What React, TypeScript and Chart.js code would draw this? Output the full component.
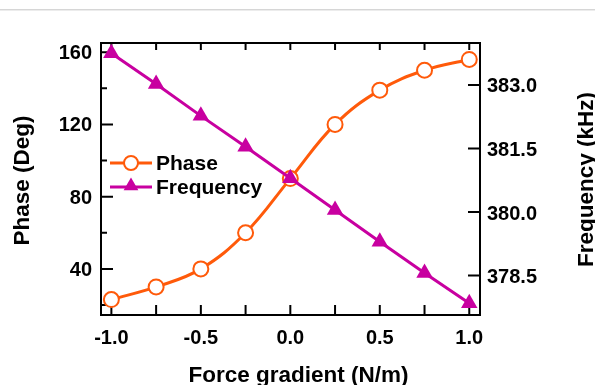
import React, { useEffect, useRef } from 'react';
import { Chart, registerables } from 'chart.js';

Chart.register(...registerables);

// ---- data ----
const forceGradient = [-1, -0.75, -0.5, -0.25, 0, 0.25, 0.5, 0.75, 1];
const phaseDeg = [23, 30, 40, 60, 90, 120, 139, 150, 156];
const frequencyKHz = [383.75, 383.02, 382.27, 381.54, 380.8, 380.05, 379.3, 378.56, 377.85];

const xTickLabels = [-1, -0.5, 0, 0.5, 1];
const xTickMarks = [-1, -0.75, -0.5, -0.25, 0, 0.25, 0.5, 0.75, 1];
const phaseTicks = [40, 80, 120, 160];
const phaseMinorTicks = [20, 60, 100, 140];
const freqTicks = [378.5, 380, 381.5, 383];

const seriesNames = ['Phase', 'Frequency'];
const xTitle = 'Force gradient (N/m)';
const leftTitle = 'Phase (Deg)';
const rightTitle = 'Frequency (kHz)';

const ORANGE = '#ff5a0a';
const MAGENTA = '#c800a0';
const FONT_FAMILY = "'Liberation Sans', Arial, Helvetica, sans-serif";

const tickFont = { family: FONT_FAMILY, size: 20, weight: 'bold' as const };

const decorPlugin = {
  id: 'decor',
  beforeDraw(chart: any) {
    const ctx = chart.ctx;
    ctx.save();
    ctx.fillStyle = '#ffffff';
    ctx.fillRect(0, 0, chart.width, chart.height);
    ctx.fillStyle = '#d6d6d6';
    ctx.fillRect(0, 9, chart.width, 1);
    ctx.fillStyle = '#ececec';
    ctx.fillRect(0, 10, chart.width, 1);
    ctx.restore();
  },
  beforeDatasetsDraw(chart: any) {
    const ctx = chart.ctx;
    const { left, right, top, bottom } = chart.chartArea;
    const sx = chart.scales.x;
    const sy = chart.scales.y;
    const sy1 = chart.scales.y1;
    ctx.save();
    ctx.strokeStyle = '#000';
    ctx.lineWidth = 2;
    ctx.beginPath();
    xTickMarks.forEach((v) => {
      const px = sx.getPixelForValue(v);
      ctx.moveTo(px, bottom);
      ctx.lineTo(px, bottom - 10);
      ctx.moveTo(px, top);
      ctx.lineTo(px, top + 7);
    });
    phaseTicks.forEach((v) => {
      const py = sy.getPixelForValue(v);
      ctx.moveTo(left, py);
      ctx.lineTo(left + 12, py);
    });
    phaseMinorTicks.forEach((v) => {
      const py = sy.getPixelForValue(v);
      ctx.moveTo(left, py);
      ctx.lineTo(left + 6, py);
    });
    freqTicks.forEach((v) => {
      const py = sy1.getPixelForValue(v);
      ctx.moveTo(right, py);
      ctx.lineTo(right - 12, py);
    });
    ctx.stroke();
    ctx.strokeRect(left, top, right - left, bottom - top);
    ctx.restore();
  },
  afterDraw(chart: any) {
    const ctx = chart.ctx;
    ctx.save();
    ctx.fillStyle = '#000';
    ctx.font = `bold 22.5px ${FONT_FAMILY}`;
    // x title
    ctx.textAlign = 'center';
    ctx.textBaseline = 'alphabetic';
    ctx.fillText(xTitle, 298.5, 381.5);
    // left title
    ctx.save();
    ctx.translate(28.5, 180.5);
    ctx.rotate(-Math.PI / 2);
    ctx.fillText(leftTitle, 0, 0);
    ctx.restore();
    // right title
    ctx.save();
    ctx.translate(593, 179.5);
    ctx.rotate(-Math.PI / 2);
    ctx.fillText(rightTitle, 0, 0);
    ctx.restore();

    // legend
    ctx.font = `bold 21px ${FONT_FAMILY}`;
    const lx0 = 110;
    const lx1 = 152;
    const mx = 131;
    const rows = [163, 187];
    ctx.lineWidth = 3;
    // Phase
    ctx.strokeStyle = ORANGE;
    ctx.beginPath();
    ctx.moveTo(lx0, rows[0]);
    ctx.lineTo(lx1, rows[0]);
    ctx.stroke();
    ctx.lineWidth = 2;
    ctx.fillStyle = '#fff';
    ctx.beginPath();
    ctx.arc(mx, rows[0], 7, 0, Math.PI * 2);
    ctx.fill();
    ctx.stroke();
    // Frequency
    ctx.lineWidth = 3;
    ctx.strokeStyle = MAGENTA;
    ctx.beginPath();
    ctx.moveTo(lx0, rows[1]);
    ctx.lineTo(lx1, rows[1]);
    ctx.stroke();
    ctx.fillStyle = MAGENTA;
    const r = 8.5;
    const cy = rows[1] - 1;
    ctx.beginPath();
    ctx.moveTo(mx, cy - r);
    ctx.lineTo(mx + r * Math.sin((2 * Math.PI) / 3), cy + r * 0.5);
    ctx.lineTo(mx - r * Math.sin((2 * Math.PI) / 3), cy + r * 0.5);
    ctx.closePath();
    ctx.fill();

    ctx.fillStyle = '#000';
    ctx.textAlign = 'left';
    ctx.textBaseline = 'alphabetic';
    ctx.fillText(seriesNames[0], 156, 170);
    ctx.fillText(seriesNames[1], 156, 193.5);
    ctx.restore();
  },
};

export default function App() {
  const canvasRef = useRef<HTMLCanvasElement | null>(null);

  useEffect(() => {
    if (!canvasRef.current) return;
    const chart = new Chart(canvasRef.current, {
      type: 'line',
      data: {
        datasets: [
          {
            label: seriesNames[0],
            data: forceGradient.map((x, i) => ({ x, y: phaseDeg[i] })),
            yAxisID: 'y',
            borderColor: ORANGE,
            backgroundColor: '#ffffff',
            borderWidth: 3,
            pointStyle: 'circle',
            pointRadius: 7.5,
            pointBorderWidth: 2,
            pointBorderColor: ORANGE,
            pointBackgroundColor: '#ffffff',
            tension: 0.4,
            clip: false as any,
            order: 1,
          },
          {
            label: seriesNames[1],
            data: forceGradient.map((x, i) => ({ x, y: frequencyKHz[i] })),
            yAxisID: 'y1',
            borderColor: MAGENTA,
            backgroundColor: MAGENTA,
            borderWidth: 3,
            pointStyle: 'triangle',
            pointRadius: 9.5,
            pointBorderWidth: 0,
            pointBackgroundColor: MAGENTA,
            tension: 0,
            clip: false as any,
            order: 0,
          },
        ],
      },
      options: {
        responsive: false,
        animation: false,
        devicePixelRatio: 1,
        layout: { padding: { top: 43, left: 0, right: 0, bottom: 0 } },
        plugins: {
          legend: { display: false },
          tooltip: { enabled: false },
          title: { display: false },
        },
        scales: {
          x: {
            type: 'linear',
            position: 'bottom',
            min: -1.058,
            max: 1.06,
            grid: { display: false, drawTicks: false },
            border: { display: false },
            ticks: {
              font: tickFont,
              color: '#000',
              padding: 11,
              autoSkip: false,
              maxRotation: 0,
              callback: (v: any) => Number(v).toFixed(1),
            },
            afterBuildTicks: (s: any) => {
              s.ticks = xTickLabels.map((v) => ({ value: v }));
            },
            afterFit: (s: any) => {
              s.height = 70;
            },
          },
          y: {
            type: 'linear',
            position: 'left',
            min: 14.46,
            max: 165.1,
            grid: { display: false, drawTicks: false },
            border: { display: false },
            ticks: {
              font: tickFont,
              color: '#000',
              padding: 9,
              labelOffset: 1.5,
              autoSkip: false,
              callback: (v: any) => String(v),
            },
            afterBuildTicks: (s: any) => {
              s.ticks = phaseTicks.map((v) => ({ value: v }));
            },
            afterFit: (s: any) => {
              s.width = 101;
            },
          },
          y1: {
            type: 'linear',
            position: 'right',
            min: 377.57,
            max: 383.99,
            grid: { display: false, drawTicks: false },
            border: { display: false },
            ticks: {
              font: tickFont,
              color: '#000',
              padding: 7,
              labelOffset: 2,
              autoSkip: false,
              callback: (v: any) => Number(v).toFixed(1),
            },
            afterBuildTicks: (s: any) => {
              s.ticks = freqTicks.map((v) => ({ value: v }));
            },
            afterFit: (s: any) => {
              s.width = 115;
            },
          },
        },
      },
      plugins: [decorPlugin],
    } as any);
    return () => chart.destroy();
  }, []);

  return (
    <div
      style={{
        position: 'fixed',
        left: 0,
        top: 0,
        width: 595,
        height: 385,
        background: '#fff',
        overflow: 'hidden',
      }}
    >
      <canvas ref={canvasRef} width={595} height={385} style={{ display: 'block' }} />
    </div>
  );
}
